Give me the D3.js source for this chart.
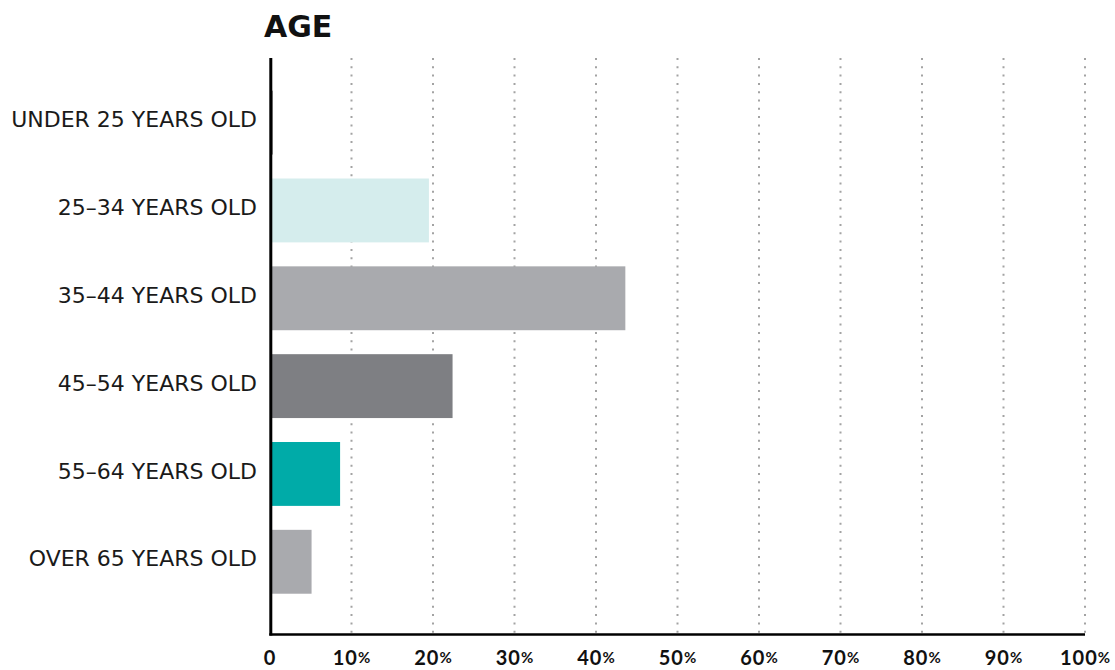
<!DOCTYPE html>
<html>
<head>
<meta charset="utf-8">
<script src="https://cdn.jsdelivr.net/npm/d3@7"></script>
<style>
  body { margin: 0; background: #fff; }
  svg text { font-family: "DejaVu Sans", sans-serif; fill: #111; }
</style>
</head>
<body>
<div class="canvas"></div>
<script>
// data
const categories = ['UNDER 25 YEARS OLD', '25–34 YEARS OLD', '35–44 YEARS OLD',
  '45–54 YEARS OLD', '55–64 YEARS OLD', 'OVER 65 YEARS OLD'];
const values = [0.3, 19.5, 43.6, 22.4, 8.6, 5.1];
const colors = ['#111111', '#d5eded', '#a9aaae', '#7e7f83', '#00aba8', '#a9aaae'];
const ticks = [0, 10, 20, 30, 40, 50, 60, 70, 80, 90, 100];

const svg = d3.select('.canvas')
  .append('svg')
    .attr('width', 1115)
    .attr('height', 670);

// scales
const x = d3.scaleLinear()
  .domain([0, 100])
  .range([270, 1085]);

const y = d3.scaleBand()
  .domain(categories)
  .range([78.7, 605.7])
  .paddingInner(0.2727)
  .paddingOuter(0.1364);

const axisTop = 58;
const axisBottom = 634.5;

// dotted grid lines
svg.append('g')
  .selectAll('line')
  .data(ticks.slice(1))
  .enter()
  .append('line')
    .attr('x1', d => x(d))
    .attr('x2', d => x(d))
    .attr('y1', axisTop)
    .attr('y2', axisBottom)
    .attr('stroke', '#a3a3a3')
    .attr('stroke-width', 2)
    .attr('stroke-dasharray', '2,6.3');

// bars
svg.append('g')
  .selectAll('rect')
  .data(values)
  .enter()
  .append('rect')
    .attr('x', x(0))
    .attr('y', (d, i) => y(categories[i]))
    .attr('width', d => x(d) - x(0))
    .attr('height', y.bandwidth())
    .attr('fill', (d, i) => colors[i]);

// axis lines
svg.append('line')
  .attr('x1', x(0) + 0.8).attr('x2', x(0) + 0.8)
  .attr('y1', axisTop).attr('y2', axisBottom + 1)
  .attr('stroke', '#000')
  .attr('stroke-width', 3);

svg.append('line')
  .attr('x1', x(0) - 0.7).attr('x2', x(100))
  .attr('y1', axisBottom).attr('y2', axisBottom)
  .attr('stroke', '#000')
  .attr('stroke-width', 2.5);

// category labels
svg.append('g')
  .selectAll('text')
  .data(categories)
  .enter()
  .append('text')
    .attr('x', 257)
    .attr('y', d => y(d) + y.bandwidth() / 2 + 4.6)
    .attr('text-anchor', 'end')
    .style('font-size', '22px')
    .style('font-weight', 400)
    .style('fill', '#1a1a1a')
    .text(d => d);

// x tick labels, the % sign smaller
const tickText = svg.append('g')
  .selectAll('text')
  .data(ticks)
  .enter()
  .append('text')
    .attr('x', d => x(d))
    .attr('y', 665)
    .attr('text-anchor', 'middle')
    .style('font-family', '"Lato", sans-serif')
    .style('font-size', '20px')
    .style('font-weight', 700)
    .style('letter-spacing', '1px');

tickText.append('tspan').text(d => d);
tickText.filter(d => d > 0)
  .append('tspan')
    .style('font-size', '15px')
    .style('letter-spacing', '0px')
    .attr('dy', '-2')
    .text('%');

// title
svg.append('text')
  .attr('x', 264)
  .attr('y', 37)
  .style('font-size', '30px')
  .style('font-weight', 700)
  .text('AGE');
</script>
</body>
</html>
